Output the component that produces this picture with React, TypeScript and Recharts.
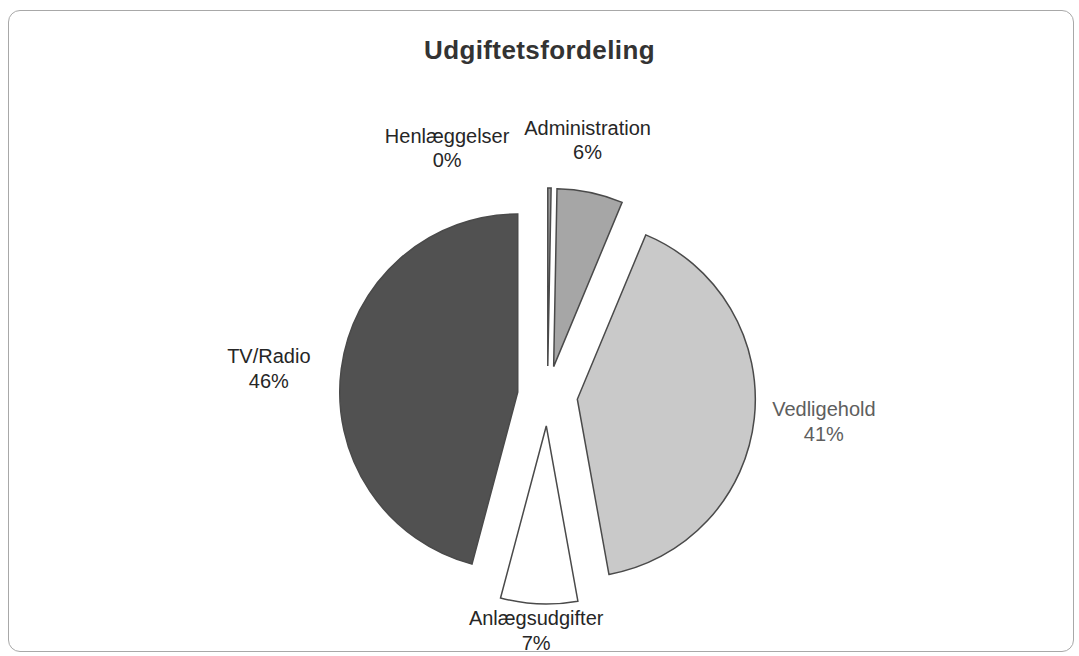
import { PieChart, Pie, Cell } from "recharts";

const categories = ["Henlæggelser", "Administration", "Vedligehold", "Anlægsudgifter", "TV/Radio"];
const values = [0.3, 6, 41, 7, 46];

const FILLS = ["#9a9a9a", "#a6a6a6", "#c9c9c9", "#ffffff", "#515151"];
const LABEL_COLORS = ["#262626", "#262626", "#5e5e5e", "#262626", "#262626"];
// Excel moved these labels away from their slice so they do not collide
const LABEL_NUDGE: Record<string, [number, number]> = {
  Henlæggelser: [-103, -8],
  Administration: [-17, -21],
  Anlægsudgifter: [0, -5],
  "TV/Radio": [-3, 4],
};

const W = 1079;
const H = 656;
const CX = 547.5;
const CY = 396;
const R = 178;
const EXPLODE = 30;
const RADIAN = Math.PI / 180;

const data = categories.map((name, i) => ({ name, value: values[i] }));
const total = values.reduce((s, v) => s + v, 0);

// clockwise angle from 12 o'clock to the middle of each slice
let acc = 0;
const mids = values.map((v) => {
  const m = ((acc + v / 2) / total) * 360;
  acc += v;
  return m;
});

function makeLabel(k: number) {
  return (props: any) => {
    if (props.index !== k) return null;
    const { cx, cy, midAngle, percent, name } = props;
    const ux = Math.cos(-midAngle * RADIAN);
    const uy = Math.sin(-midAngle * RADIAN);
    const nudge = LABEL_NUDGE[name] || [0, 0];
    const x = cx + 248 * ux + nudge[0];
    const y = cy + 210 * uy + nudge[1];
    return (
      <text
        x={x}
        y={y}
        textAnchor="middle"
        fill={LABEL_COLORS[k]}
        fontSize={20}
        fontFamily="'Liberation Sans', Arial, sans-serif"
      >
        <tspan x={x} y={y - 5.5}>{name}</tspan>
        <tspan x={x} y={y + 19}>{Math.round(percent * 100)}%</tspan>
      </text>
    );
  };
}

export default function App() {
  return (
    <div style={{ position: "absolute", left: 0, top: 0, width: W, height: H, background: "#fff" }}>
      <div
        style={{
          position: "absolute",
          left: 8,
          top: 10,
          width: 1064,
          height: 640,
          border: "1.5px solid #a8a8a8",
          borderRadius: 12,
        }}
      />
      <div
        style={{
          position: "absolute",
          left: 0,
          width: W,
          top: 35,
          textAlign: "center",
          fontFamily: "'Liberation Sans', Arial, sans-serif",
          fontWeight: "bold",
          fontSize: 26,
          letterSpacing: 0.4,
          color: "#333",
        }}
      >
        Udgiftetsfordeling
      </div>
      <PieChart
        width={W}
        height={H}
        margin={{ top: 0, right: 0, bottom: 0, left: 0 }}
        style={{ position: "absolute", left: 0, top: 0 }}
      >
        {categories.map((cat, k) => (
          <Pie
            key={cat}
            data={data}
            dataKey="value"
            nameKey="name"
            cx={CX + EXPLODE * Math.sin(mids[k] * RADIAN)}
            cy={CY - EXPLODE * Math.cos(mids[k] * RADIAN)}
            outerRadius={R}
            innerRadius={0}
            startAngle={90}
            endAngle={-270}
            paddingAngle={0}
            label={makeLabel(k)}
            labelLine={false}
            isAnimationActive={false}
          >
            {data.map((_, i) => (
              <Cell
                key={i}
                fill={i === k ? FILLS[i] : "none"}
                stroke={i === k ? "#4a4a4a" : "none"}
                strokeWidth={1.5}
              />
            ))}
          </Pie>
        ))}
      </PieChart>
    </div>
  );
}
